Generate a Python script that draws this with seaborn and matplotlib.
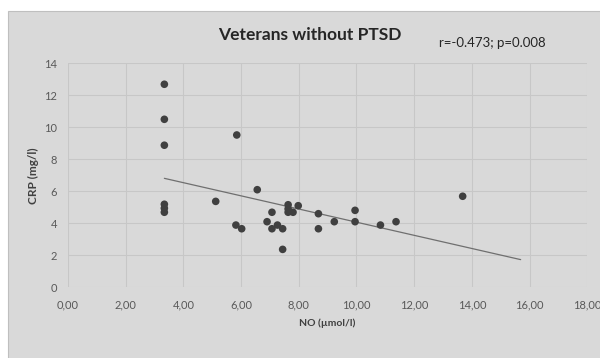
import matplotlib
matplotlib.use("Agg")
import matplotlib.pyplot as plt
from matplotlib.patches import Rectangle
import seaborn as sns
import pandas as pd

# ---- data ----
no_values = [3.34, 3.34, 3.34, 3.34, 3.34, 3.34, 5.12, 5.85, 5.82, 6.02, 6.56,
             6.90, 7.07, 7.07, 7.26, 7.44, 7.44, 7.63, 7.63, 7.63, 7.80, 7.98,
             8.68, 8.68, 9.23, 9.95, 9.95, 10.83, 11.37, 13.68]
crp_values = [12.69, 10.50, 8.88, 5.19, 4.94, 4.69, 5.37, 9.52, 3.89, 3.66, 6.10,
              4.10, 4.69, 3.66, 3.89, 3.66, 2.37, 5.16, 4.90, 4.69, 4.69, 5.10,
              4.60, 3.66, 4.10, 4.81, 4.10, 3.89, 4.10, 5.69]
trend_x = [3.34, 15.69]
trend_y = [6.81, 1.73]
x_ticks = [0, 2, 4, 6, 8, 10, 12, 14, 16, 18]
x_tick_labels = ["0,00", "2,00", "4,00", "6,00", "8,00", "10,00", "12,00",
                 "14,00", "16,00", "18,00"]
y_ticks = [0, 2, 4, 6, 8, 10, 12, 14]
title_text = "Veterans without PTSD"
stats_text = "r=-0.473; p=0.008"
x_label = "NO (µmol/l)"
y_label = "CRP (mg/l)"

sns.set_theme(style="white")
plt.rcParams["font.family"] = ["Lato", "DejaVu Sans"]

W, H = 600, 358
fig = plt.figure(figsize=(6, 3.58), dpi=100)
fig.patch.set_facecolor("white")
fig.add_artist(Rectangle((7.5 / W, -0.01), (W - 7.5) / W + 0.01, (H - 11) / H + 0.01,
                         transform=fig.transFigure, facecolor="#d9d9d9",
                         edgecolor="#bfbfbf", linewidth=0.8, zorder=0))

ax = fig.add_axes([68 / W, 1 - 287.3 / H, (587.3 - 68) / W, (287.3 - 63.3) / H])
ax.set_facecolor("#d9d9d9")

df = pd.DataFrame({"NO": no_values, "CRP": crp_values})
sns.scatterplot(data=df, x="NO", y="CRP", ax=ax, color="#404040", s=30,
                edgecolor="none", zorder=3)
sns.lineplot(x=trend_x, y=trend_y, ax=ax, color="#6f6f6f", linewidth=0.9, zorder=2)

ax.set_xlim(0, 18)
ax.set_ylim(0, 14)
ax.set_xticks(x_ticks)
ax.set_xticklabels(x_tick_labels)
ax.set_yticks(y_ticks)
ax.set_xlabel("")
ax.set_ylabel("")
ax.grid(True, color="#c7c7c7", linewidth=0.8)
ax.set_axisbelow(True)
for s in ax.spines.values():
    s.set_visible(False)
ax.tick_params(axis="both", length=0, labelsize=8, colors="#595959")
ax.tick_params(axis="x", pad=9)
ax.tick_params(axis="y", pad=8)

fig.text(310 / W, 1 - 35 / H, title_text, ha="center", va="center",
         fontsize=12.5, fontweight="bold", color="#262626")
fig.text(492 / W, 1 - 43 / H, stats_text, ha="center", va="center",
         fontsize=9.5, color="#262626")
fig.text(327.5 / W, 1 - 323 / H, x_label, ha="center", va="center",
         fontsize=7.5, fontweight="bold", color="#404040")
fig.text(33 / W, 1 - 175.5 / H, y_label, ha="center", va="center", rotation=90,
         fontsize=8.5, fontweight="bold", color="#404040")

fig.savefig("out.png", dpi=100, facecolor="white")
